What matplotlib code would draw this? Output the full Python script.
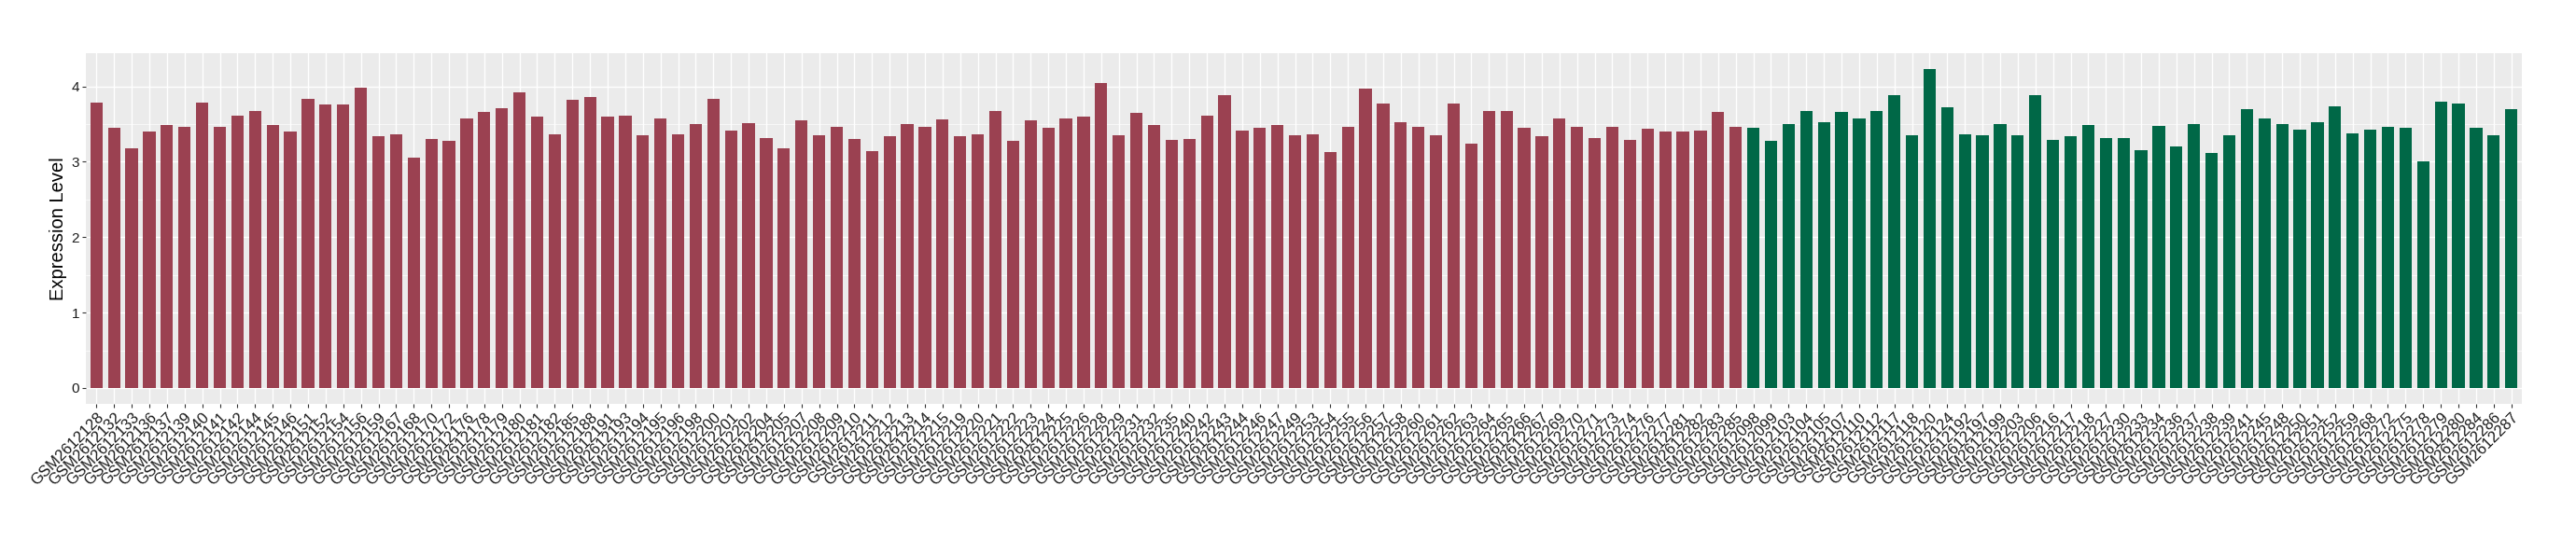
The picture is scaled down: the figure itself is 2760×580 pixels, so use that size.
import matplotlib
matplotlib.use("Agg")
import matplotlib.pyplot as plt
from matplotlib.ticker import MultipleLocator
import numpy as np

plt.rcParams['font.family'] = ['Liberation Sans', 'DejaVu Sans']

group1_ids = [2128, 2132, 2133, 2136, 2137, 2139, 2140, 2141, 2142, 2144, 2145, 2146,
              2151, 2152, 2154, 2156, 2159, 2167, 2168, 2170, 2172, 2176, 2178, 2179,
              2180, 2181, 2182, 2185, 2188, 2191, 2193, 2194, 2195, 2196, 2198, 2200,
              2201, 2202, 2204, 2205, 2207, 2208, 2209, 2210, 2211, 2212, 2213, 2214,
              2215, 2219, 2220, 2221, 2222, 2223, 2224, 2225, 2226, 2228, 2229, 2231,
              2232, 2235, 2240, 2242, 2243, 2244, 2246, 2247, 2249, 2253, 2254, 2255,
              2256, 2257, 2258, 2260, 2261, 2262, 2263, 2264, 2265, 2266, 2267, 2269,
              2270, 2271, 2273, 2274, 2276, 2277, 2281, 2282, 2283, 2285]
group1_values = [3.79, 3.45, 3.18, 3.40, 3.49, 3.47, 3.78, 3.47, 3.61, 3.67, 3.49, 3.40,
                 3.84, 3.76, 3.76, 3.98, 3.34, 3.37, 3.05, 3.30, 3.28, 3.58, 3.66, 3.71,
                 3.92, 3.60, 3.36, 3.82, 3.86, 3.60, 3.61, 3.35, 3.58, 3.36, 3.50, 3.84,
                 3.41, 3.51, 3.31, 3.18, 3.55, 3.35, 3.47, 3.30, 3.14, 3.34, 3.50, 3.46,
                 3.56, 3.34, 3.36, 3.68, 3.28, 3.55, 3.45, 3.58, 3.60, 4.04, 3.35, 3.65,
                 3.49, 3.29, 3.30, 3.61, 3.88, 3.42, 3.45, 3.49, 3.35, 3.36, 3.13, 3.46,
                 3.97, 3.77, 3.52, 3.47, 3.35, 3.77, 3.24, 3.68, 3.67, 3.45, 3.34, 3.57,
                 3.46, 3.31, 3.47, 3.29, 3.44, 3.40, 3.40, 3.41, 3.66, 3.47]

group2_ids = [2098, 2099, 2103, 2104, 2105, 2107, 2110, 2112, 2117, 2118, 2120, 2124,
              2192, 2197, 2199, 2203, 2206, 2216, 2217, 2218, 2227, 2230, 2233, 2234,
              2236, 2237, 2238, 2239, 2241, 2245, 2248, 2250, 2251, 2252, 2259, 2268,
              2272, 2275, 2278, 2279, 2280, 2284, 2286, 2287]
group2_values = [3.45, 3.28, 3.50, 3.68, 3.52, 3.66, 3.58, 3.67, 3.89, 3.35, 4.23, 3.72,
                 3.36, 3.35, 3.50, 3.35, 3.89, 3.29, 3.34, 3.49, 3.31, 3.31, 3.15, 3.48,
                 3.20, 3.50, 3.12, 3.35, 3.70, 3.58, 3.50, 3.43, 3.52, 3.73, 3.38, 3.43,
                 3.47, 3.45, 3.00, 3.80, 3.77, 3.45, 3.35, 3.70]

color1 = "#9B4151"
color2 = "#006847"

labels = ["GSM261" + str(i) for i in group1_ids] + ["GSM261" + str(i) for i in group2_ids]
values = np.array(group1_values + group2_values)
colors = [color1] * len(group1_values) + [color2] * len(group2_values)
x = np.arange(len(labels))

fig = plt.figure(figsize=(27.6, 5.8), dpi=100)
ax = fig.add_axes([92 / 2760, 1 - 433 / 580, (2702 - 92) / 2760, (433 - 57) / 580])
ax.set_facecolor("#EBEBEB")

ax.bar(x, values, width=0.7, color=colors, zorder=3)

vmax = values.max()
ax.set_ylim(-0.05 * vmax, 1.05 * vmax)
ax.set_xlim(-0.6, len(labels) - 1 + 0.6)

ax.yaxis.set_major_locator(MultipleLocator(1))
ax.yaxis.set_minor_locator(MultipleLocator(0.5))
ax.set_xticks(x)
ax.set_xticklabels(labels, rotation=45, ha="right", va="top", rotation_mode="anchor",
                   fontsize=12, color="#1A1A1A")
ax.tick_params(axis="y", labelsize=11, labelcolor="#1A1A1A")
ax.tick_params(axis="both", which="major", length=3, width=0.8, color="#333333", pad=2)
ax.tick_params(axis="y", which="minor", length=0)

ax.grid(which="major", color="white", linewidth=1.0, zorder=0)
ax.grid(which="minor", axis="y", color="white", linewidth=0.5, zorder=0)
ax.set_axisbelow(True)
for s in ax.spines.values():
    s.set_visible(False)

ax.set_ylabel("Expression Level", fontsize=14.5, color="black", labelpad=3)

fig.savefig("out.png", dpi=100, facecolor="white")
